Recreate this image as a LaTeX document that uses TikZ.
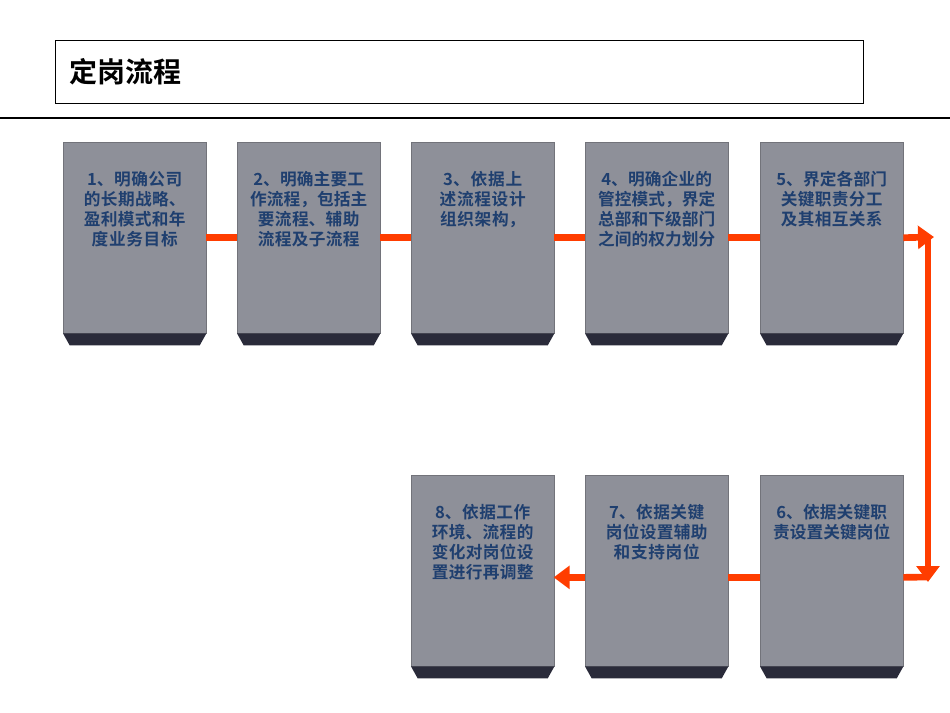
\documentclass[tikz,border=0pt]{standalone}
\usepackage{fontspec}
\newfontfamily\cjk{Noto Sans CJK SC}[BoldFont={Noto Sans CJK SC Bold}]
\XeTeXlinebreaklocale "zh"
\XeTeXlinebreakskip=0pt plus 1pt
\usetikzlibrary{arrows.meta}
\definecolor{boxgray}{HTML}{8E9099}
\definecolor{basedark}{HTML}{2A2B3A}
\definecolor{txtblue}{HTML}{1F3F6F}
\definecolor{flow}{HTML}{FF3D00}
\begin{document}
\begin{tikzpicture}[x=0.75pt,y=-0.75pt,
  stepbox/.style={fill=boxgray,draw=boxgray!80!black,line width=0.3pt,minimum width=107.25pt,minimum height=143.25pt,anchor=north west,inner sep=0},
  steptext/.style={anchor=north,text width=90pt,align=center,font=\cjk\bfseries\fontsize{12.5pt}{15pt}\selectfont,text=txtblue,inner sep=0},
  flowline/.style={flow,line width=5pt},
  flowarrow/.style={flow,line width=5pt,-{Triangle[length=12pt,width=17pt]}}]
\useasboundingbox (0,0) rectangle (950,713);
\node[draw,line width=0.6pt,minimum width=606pt,minimum height=47.25pt,anchor=north west,inner sep=0] (hdr) at (55,40) {};
\node[anchor=west,font=\cjk\bfseries\fontsize{21pt}{26pt}\selectfont] (title) at (65,72) {定岗流程};
\coordinate (la) at (0,118); \coordinate (lb) at (950,118);
\draw[line width=1.8pt] (la) -- (lb);
\foreach \n/\x/\y in {1/63/142,2/237/142,3/411/142,4/585/142,5/760/142,6/760/475,7/585/475,8/411/475}{
  \node[stepbox] (b\n) at (\x,\y) {};
  \fill[basedark] (b\n.south west) -- (b\n.south east) -- ([xshift=-5pt,yshift=-9pt]b\n.south east) -- ([xshift=5pt,yshift=-9pt]b\n.south west) -- cycle;
}
\node[steptext] (t1) at ([yshift=-22pt]b1.north) {1、明确公司的长期战略、盈利模式和年度业务目标};
\node[steptext] (t2) at ([yshift=-22pt]b2.north) {2、明确主要工作流程，包括主要流程、辅助流程及子流程};
\node[steptext] (t3) at ([yshift=-22pt]b3.north) {3、依据上述流程设计组织架构，};
\node[steptext] (t4) at ([yshift=-22pt]b4.north) {4、明确企业的管控模式，界定总部和下级部门之间的权力划分};
\node[steptext] (t5) at ([yshift=-22pt]b5.north) {5、界定各部门关键职责分工及其相互关系};
\node[steptext] (t6) at ([yshift=-22pt]b6.north) {6、依据关键职责设置关键岗位};
\node[steptext] (t7) at ([yshift=-22pt]b7.north) {7、依据关键岗位设置辅助和支持岗位};
\node[steptext] (t8) at ([yshift=-22pt]b8.north) {8、依据工作环境、流程的变化对岗位设置进行再调整};
\draw[flowline] (b1.east) -- (b2.west);
\draw[flowline] (b2.east) -- (b3.west);
\draw[flowline] (b3.east) -- (b4.west);
\draw[flowline] (b4.east) -- (b5.west);
\coordinate (c1) at (934,237);
\coordinate (c2) at (928,237);
\coordinate (c3) at (928,582);
\draw[flowarrow] (b5.east) -- (c1);
\draw[flowarrow] (c2) -- (c3);
\draw[flowline] (928,577) -- ([yshift=-5pt]b6.east);
\draw[flowline] ([yshift=-5pt]b6.west) -- ([yshift=-5pt]b7.east);
\draw[flowarrow] ([yshift=-5pt]b7.west) -- ([xshift=-1pt,yshift=-5pt]b7.west -| 555,0);
\end{tikzpicture}
\end{document}
